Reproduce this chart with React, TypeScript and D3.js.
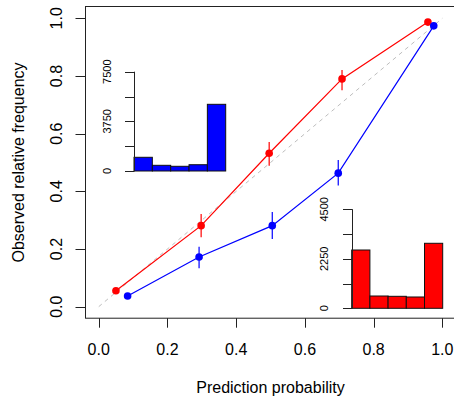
import { line, scaleLinear, select } from "d3";
import { useEffect, useRef } from "react";

// calibration points (predicted prob, observed freq, error bar bounds)
const redX = [0.05, 0.298, 0.496, 0.708, 0.958];
const redY = [0.055, 0.281, 0.532, 0.79, 0.987];
const redLo = [0.047, 0.241, 0.489, 0.751, 0.982];
const redHi = [0.063, 0.321, 0.571, 0.821, 0.992];

const blueX = [0.084, 0.292, 0.505, 0.697, 0.975];
const blueY = [0.037, 0.172, 0.281, 0.463, 0.974];
const blueLo = [0.031, 0.133, 0.235, 0.42, 0.97];
const blueHi = [0.043, 0.208, 0.328, 0.509, 0.978];

const mainTicks = [0, 0.2, 0.4, 0.6, 0.8, 1];

// histogram counts per bin (0-0.2, ..., 0.8-1)
const binEdges = [0, 0.2, 0.4, 0.6, 0.8, 1];
const blueCounts = [1035, 430, 355, 475, 5037];
const redCounts = [2650, 559, 545, 514, 2955];
const blueHistTicks = [0, 1875, 3750, 5625, 7500];
const blueHistLabels = [0, 3750, 7500];
const redHistTicks = [0, 1125, 2250, 3375, 4500];
const redHistLabels = [0, 2250, 4500];

const FONT = "Liberation Sans, Arial, sans-serif";

export default function App() {
  const svgRef = useRef<SVGSVGElement | null>(null);

  useEffect(() => {
    if (!svgRef.current) return;
    const svg = select(svgRef.current);
    svg.selectAll("*").remove();

    const x = scaleLinear().domain([-0.04, 1.04]).range([85, 456.1]);
    const y = scaleLinear().domain([-0.04, 1.04]).range([318.2, 6.8]);
    const tickLen = 9.5;

    // box (right side falls outside the image)
    svg
      .append("rect")
      .attr("x", 85.5)
      .attr("y", 6.5)
      .attr("width", 371)
      .attr("height", 311.7)
      .attr("fill", "none")
      .attr("stroke", "#222")
      .attr("stroke-width", 1);

    // x axis
    const xAxis = svg.append("g");
    xAxis
      .selectAll("line")
      .data(mainTicks)
      .join("line")
      .attr("x1", (d) => Math.round(x(d)) + 0.5)
      .attr("x2", (d) => Math.round(x(d)) + 0.5)
      .attr("y1", 318.2)
      .attr("y2", 318.2 + tickLen)
      .attr("stroke", "#222");
    xAxis
      .selectAll("text")
      .data(mainTicks)
      .join("text")
      .attr("x", (d) => x(d))
      .attr("y", 355)
      .attr("text-anchor", "middle")
      .attr("font-size", 16)
      .attr("font-family", FONT)
      .text((d) => d.toFixed(1));

    // y axis
    const yAxis = svg.append("g");
    yAxis
      .selectAll("line")
      .data(mainTicks)
      .join("line")
      .attr("x1", 85 - tickLen)
      .attr("x2", 85)
      .attr("y1", (d) => Math.round(y(d)) + 0.5)
      .attr("y2", (d) => Math.round(y(d)) + 0.5)
      .attr("stroke", "#222");
    yAxis
      .selectAll("text")
      .data(mainTicks)
      .join("text")
      .attr("transform", (d) => `translate(61.7,${y(d)}) rotate(-90)`)
      .attr("text-anchor", "middle")
      .attr("font-size", 16)
      .attr("font-family", FONT)
      .text((d) => d.toFixed(1));

    svg
      .append("text")
      .attr("x", 270.5)
      .attr("y", 393)
      .attr("text-anchor", "middle")
      .attr("font-size", 16)
      .attr("font-family", FONT)
      .text("Prediction probability");
    svg
      .append("text")
      .attr("transform", `translate(23.5,162.5) rotate(-90)`)
      .attr("text-anchor", "middle")
      .attr("font-size", 16)
      .attr("font-family", FONT)
      .text("Observed relative frequency");

    // reference diagonal
    svg
      .append("line")
      .attr("x1", x(0))
      .attr("y1", y(0))
      .attr("x2", x(1))
      .attr("y2", y(1))
      .attr("stroke", "#bebebe")
      .attr("stroke-width", 1)
      .attr("stroke-dasharray", "4,4");

    const series = [
      { xs: redX, ys: redY, lo: redLo, hi: redHi, color: "#ff0000" },
      { xs: blueX, ys: blueY, lo: blueLo, hi: blueHi, color: "#0000ff" },
    ];

    for (const s of series) {
      const pts = s.xs.map((v, i) => [v, s.ys[i]] as [number, number]);
      const g = svg.append("g");
      g.append("path")
        .attr(
          "d",
          line<[number, number]>()
            .x((d) => x(d[0]))
            .y((d) => y(d[1]))(pts),
        )
        .attr("fill", "none")
        .attr("stroke", s.color)
        .attr("stroke-width", 1.2);
      g.selectAll("line")
        .data(s.xs)
        .join("line")
        .attr("x1", (d) => x(d))
        .attr("x2", (d) => x(d))
        .attr("y1", (_, i) => y(s.lo[i]))
        .attr("y2", (_, i) => y(s.hi[i]))
        .attr("stroke", s.color)
        .attr("stroke-width", 1.2);
      g.selectAll("circle")
        .data(pts)
        .join("circle")
        .attr("cx", (d) => x(d[0]))
        .attr("cy", (d) => y(d[1]))
        .attr("r", 3.8)
        .attr("fill", s.color);
    }

    // inset histograms
    const insets = [
      {
        counts: blueCounts,
        ticks: blueHistTicks,
        labels: blueHistLabels,
        hx: scaleLinear().domain([0, 1]).range([134, 225.7]),
        hy: scaleLinear().domain([0, 7500]).range([171, 71.7]),
        labelX: 110.7,
        color: "#0000ff",
      },
      {
        counts: redCounts,
        ticks: redHistTicks,
        labels: redHistLabels,
        hx: scaleLinear().domain([0, 1]).range([351.7, 442.7]),
        hy: scaleLinear().domain([0, 4500]).range([308.3, 209.3]),
        labelX: 328.3,
        color: "#ff0000",
      },
    ];

    for (const h of insets) {
      const g = svg.append("g");
      g.selectAll("rect")
        .data(h.counts)
        .join("rect")
        .attr("x", (_, i) => h.hx(binEdges[i]))
        .attr("width", (_, i) => h.hx(binEdges[i + 1]) - h.hx(binEdges[i]))
        .attr("y", (d) => h.hy(d))
        .attr("height", (d) => h.hy(0) - h.hy(d))
        .attr("fill", h.color)
        .attr("stroke", "#111")
        .attr("stroke-width", 1);
      const ax = Math.round(h.hx(0)) + 0.5;
      g.append("line")
        .attr("x1", ax)
        .attr("x2", ax)
        .attr("y1", h.hy(0))
        .attr("y2", h.hy(h.ticks[h.ticks.length - 1]))
        .attr("stroke", "#222");
      g.selectAll("line.tick")
        .data(h.ticks)
        .join("line")
        .attr("class", "tick")
        .attr("x1", ax - tickLen)
        .attr("x2", ax)
        .attr("y1", (d) => Math.round(h.hy(d)) + 0.5)
        .attr("y2", (d) => Math.round(h.hy(d)) + 0.5)
        .attr("stroke", "#222");
      g.selectAll("text")
        .data(h.labels)
        .join("text")
        .attr("transform", (d) => `translate(${h.labelX},${h.hy(d)}) rotate(-90)`)
        .attr("text-anchor", "middle")
        .attr("font-size", 11)
        .attr("font-family", FONT)
        .text((d) => String(d));
    }
  }, []);

  return (
    <div style={{ position: "fixed", left: 0, top: 0, background: "#fff" }}>
      <svg ref={svgRef} width={454} height={398} style={{ display: "block" }} />
    </div>
  );
}
